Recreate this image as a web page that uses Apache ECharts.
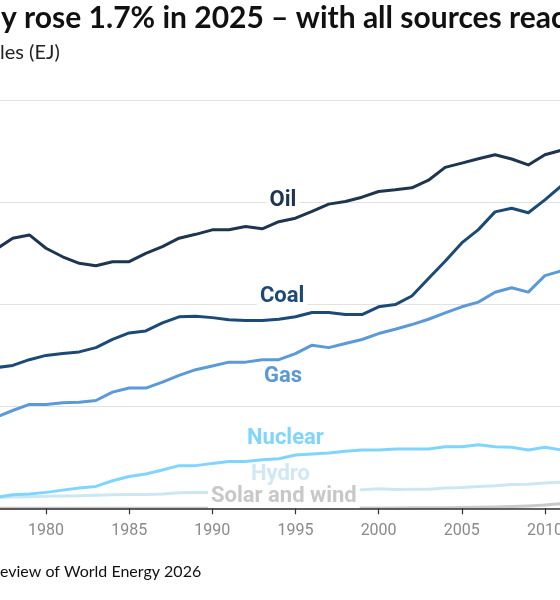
<!DOCTYPE html>
<html>
<head>
<meta charset="utf-8">
<script src="https://cdn.jsdelivr.net/npm/echarts@6/dist/echarts.min.js"></script>
<style>
html,body{margin:0;padding:0;background:#fff;overflow:hidden;}
#chart{width:560px;height:600px;}
</style>
</head>
<body>
<div id="chart"></div>
<script>
// ---- data (EJ) ----
const years = [1976,1977,1978,1979,1980,1981,1982,1983,1984,1985,1986,1987,1988,1989,1990,1991,1992,1993,1994,1995,1996,1997,1998,1999,2000,2001,2002,2003,2004,2005,2006,2007,2008,2009,2010,2011,2012];
const oil = [123.5,126.9,132.3,133.9,127.4,123.2,120.0,118.8,120.8,120.8,124.9,128.2,132.3,134.2,136.4,136.4,138.0,136.9,140.4,142.1,145.4,149.0,150.3,152.4,155.2,156.0,157.0,160.7,167.0,169.1,171.2,173.2,171.1,168.2,173.2,175.4,177.5];
const coal = [67.5,68.9,70.0,72.8,74.9,75.8,76.6,78.7,82.7,85.9,86.9,90.8,93.8,94.1,93.4,92.4,92.0,92.0,92.6,93.8,95.9,95.9,94.9,94.9,98.7,99.8,104.0,112.6,121.0,130.0,136.5,145.2,147.0,144.8,151.1,158.0,160.0];
const gas = [43.0,44.7,47.9,50.9,50.9,51.7,52.0,52.8,56.9,58.9,58.9,61.8,65.1,67.9,69.7,71.6,71.6,72.8,72.8,75.8,79.9,78.7,80.7,82.7,85.6,87.7,90.0,92.6,95.7,98.7,101.0,105.8,108.0,105.9,114.0,116.3,119.5];
const nuclear = [4.6,5.4,6.6,7.0,7.8,8.9,9.9,10.7,13.5,15.6,16.8,18.8,20.9,20.9,22.0,22.9,22.9,23.8,24.3,26.1,26.6,27.1,27.9,28.6,28.6,29.1,29.1,29.1,30.2,30.2,31.1,30.2,29.9,28.6,29.9,28.6,26.5];
const hydro = [5.0,5.3,5.5,5.7,5.9,6.0,6.1,6.4,6.6,6.7,6.8,7.0,7.6,7.7,7.8,7.9,8.0,8.2,8.3,8.6,8.7,8.9,9.0,9.1,9.6,9.2,9.3,9.3,9.9,10.2,10.7,11.1,11.7,11.8,12.4,12.8,13.3];
const solarWind = [0,0,0,0,0,0,0,0,0,0,0,0,0,0,0.02,0.03,0.03,0.04,0.05,0.06,0.07,0.08,0.1,0.12,0.15,0.19,0.23,0.28,0.33,0.4,0.5,0.65,0.86,1.15,1.6,2.3,3.0];
const tickYears = [1980,1985,1990,1995,2000,2005,2010];
const seriesNames = ['Oil','Coal','Gas','Nuclear','Hydro','Solar and wind'];

const titleHidden = 'Global primary energy suppl';
const titleShown = 'y rose 1.7% in 2025 \u2013 with all sources reaching record highs';
const subtitleHidden = 'Primary energy consumption by source, exajou';
const subtitleShown = 'les (EJ)';
const sourceHidden = 'Source: Energy Institute Statistical R';
const sourceShown = 'eview of World Energy 2026';

const pairs = vals => years.map((y, i) => [y, vals[i]]);

function mkSeries(name, vals, color, width, labelCoord, labelColor, z) {
  return {
    name: name,
    type: 'line',
    data: pairs(vals),
    showSymbol: false,
    symbol: 'none',
    clip: true,
    z: z,
    silent: true,
    lineStyle: { color: color, width: width, cap: 'round', join: 'round' },
    markPoint: {
      symbol: 'circle',
      symbolSize: 1,
      silent: true,
      z: 8,
      itemStyle: { color: 'rgba(0,0,0,0)' },
      label: {
        show: true,
        position: 'inside',
        formatter: name,
        color: labelColor,
        fontFamily: 'Roboto',
        fontWeight: 'bold',
        fontSize: 22,
        lineHeight: 23,
        backgroundColor: '#ffffff',
        padding: [0, 3]
      },
      data: [{ coord: labelCoord }]
    }
  };
}

const chart = echarts.init(document.getElementById('chart'), null, { renderer: 'canvas' });
const option = {
  animation: false,
  backgroundColor: '#ffffff',
  grid: { left: 0, right: 0, top: 100, bottom: 91.7, containLabel: false, outerBoundsMode: 'none' },
  xAxis: {
    type: 'value',
    min: 1977.234,
    max: 2010.907,
    z: 10,
    axisLine: { show: true, lineStyle: { color: '#333333', width: 1.5 } },
    axisTick: { show: true, customValues: tickYears, length: 6, lineStyle: { color: '#333333', width: 1.2 } },
    axisLabel: { show: true, customValues: tickYears, margin: 15, color: '#8a8a8a', fontFamily: 'Roboto', fontSize: 16, hideOverlap: false, formatter: v => String(v) },
    splitLine: { show: false }
  },
  yAxis: {
    type: 'value',
    min: 0,
    max: 200,
    interval: 50,
    axisLine: { show: false },
    axisTick: { show: false },
    axisLabel: { show: false },
    splitLine: { show: true, lineStyle: { color: '#e2e2e2', width: 1 } }
  },
  series: [
    mkSeries(seriesNames[5], solarWind, '#c9c9c9', 3, [1994.3, 5.6], '#c8c8c8', 2),
    mkSeries(seriesNames[4], hydro, '#cde7f2', 3, [1994.1, 16.5], '#cfe8f4', 3),
    mkSeries(seriesNames[3], nuclear, '#80d5ff', 3, [1994.4, 34.3], '#80d5ff', 4),
    mkSeries(seriesNames[2], gas, '#5b9ad8', 3, [1994.25, 64.6], '#5b98d6', 5),
    mkSeries(seriesNames[1], coal, '#1b4a77', 3, [1994.2, 103.9], '#1b4a77', 6),
    mkSeries(seriesNames[0], oil, '#1e3550', 3, [1994.25, 150.6], '#1e3550', 7)
  ],
  graphic: [
    { type: 'text', x: 1, y: 18, style: { text: titleHidden, font: 'bold 30px Lato', fill: '#111111', align: 'right', verticalAlign: 'middle' } },
    { type: 'text', x: 1, y: 18, style: { text: titleShown, font: 'bold 30px Lato', fill: '#111111', align: 'left', verticalAlign: 'middle' } },
    { type: 'text', x: 0, y: 53, style: { text: subtitleHidden, font: '20px Lato', fill: '#222222', align: 'right', verticalAlign: 'middle' } },
    { type: 'text', x: 0, y: 53, style: { text: subtitleShown, font: '20px Lato', fill: '#222222', align: 'left', verticalAlign: 'middle' } },
    { type: 'text', x: 0, y: 572, style: { text: sourceHidden, font: '16px Lato', fill: '#111111', align: 'right', verticalAlign: 'middle' } },
    { type: 'text', x: 0, y: 572, style: { text: sourceShown, font: '16px Lato', fill: '#111111', align: 'left', verticalAlign: 'middle' } }
  ]
};
chart.setOption(option);
</script>
</body>
</html>
